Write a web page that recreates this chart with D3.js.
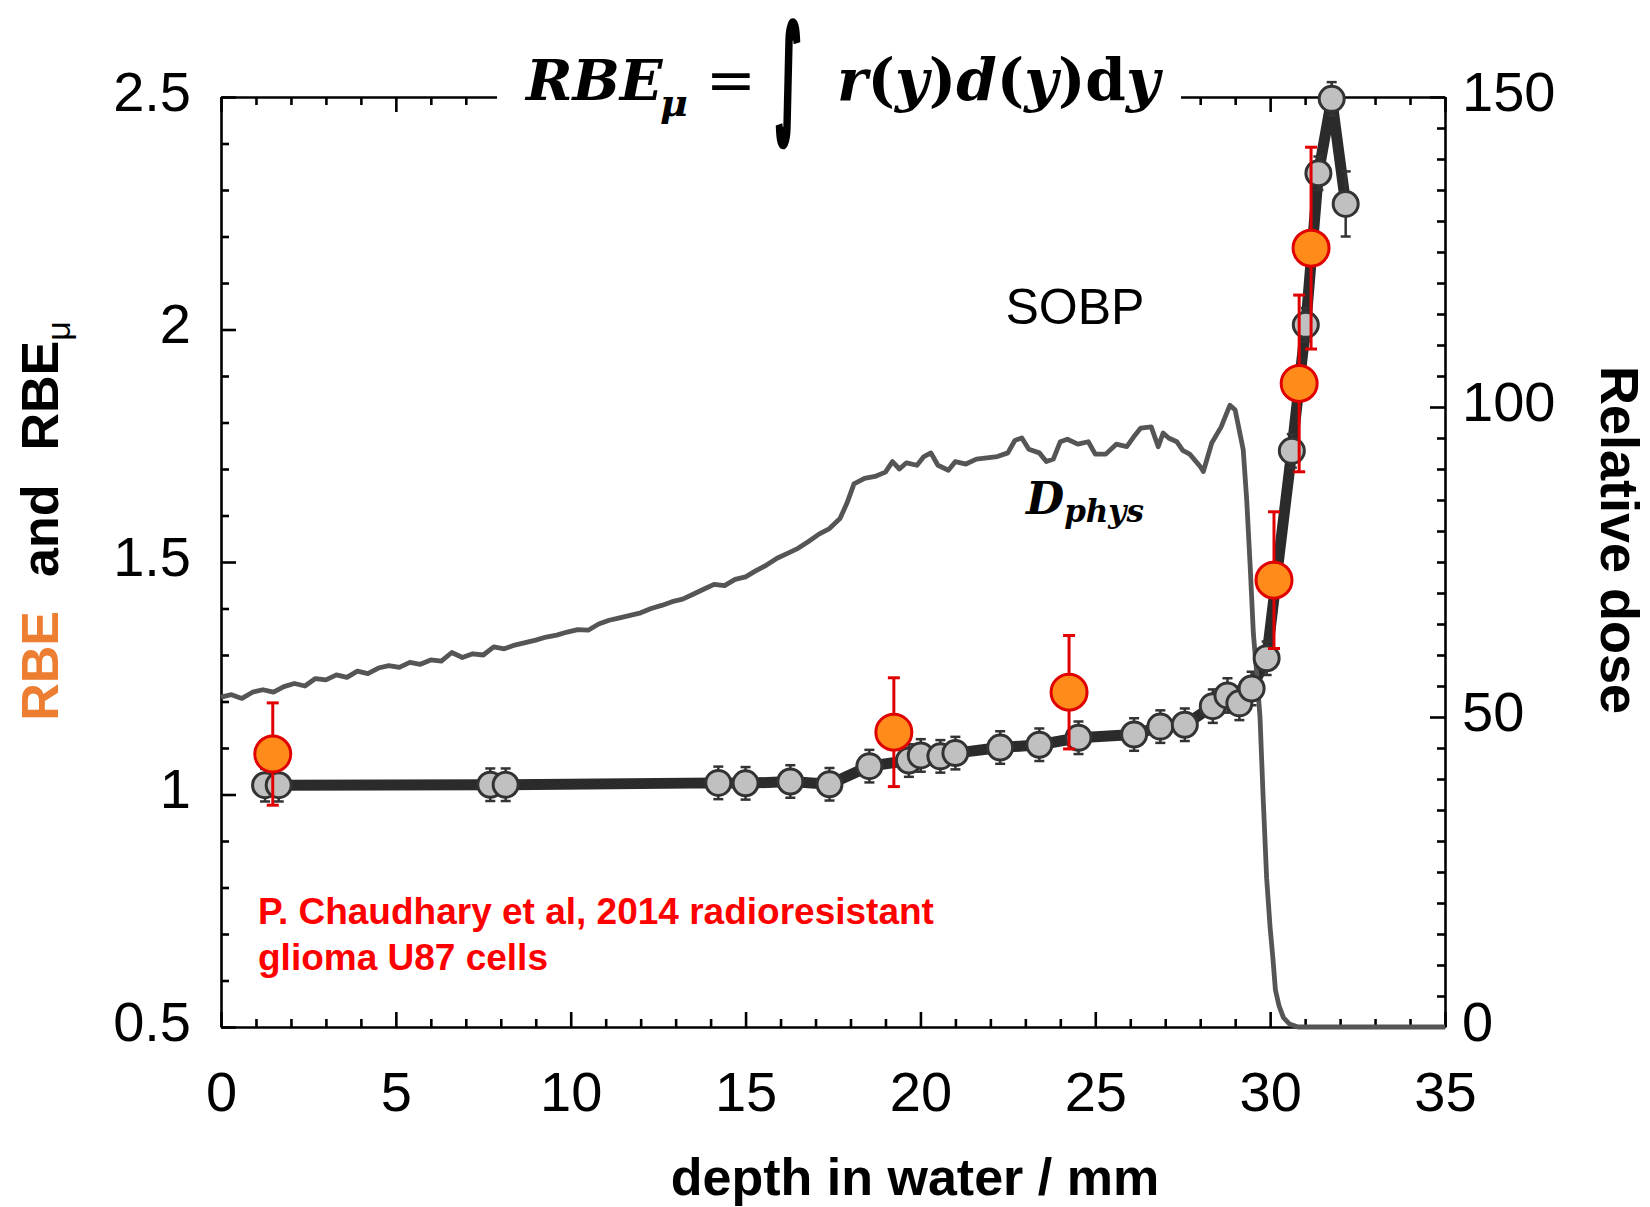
<!DOCTYPE html>
<html>
<head>
<meta charset="utf-8">
<script src="https://cdn.jsdelivr.net/npm/d3@7"></script>
<style>
  body { margin: 0; background: #fff; }
  svg { display: block; }
</style>
</head>
<body>
<svg id="chart" width="1650" height="1207"></svg>
<script>
// ---- axis ticks ----
const depthTicks = [0, 5, 10, 15, 20, 25, 30, 35];
const rbeTicks = [0.5, 1, 1.5, 2, 2.5];
const rbeTickLabels = ["0.5", "1", "1.5", "2", "2.5"];
const doseTicks = [0, 50, 100, 150];

// ---- RBE_mu (microdosimetric model), depth in mm ----
const rbeMuDepth = [1.26, 1.65, 7.70, 8.14, 14.22, 15.00, 16.28, 17.40, 18.54, 19.67,
  20.01, 20.57, 21.00, 22.28, 23.40, 24.52, 26.11, 26.86, 27.56, 28.36,
  28.78, 29.12, 29.47, 29.90, 30.62, 31.02, 31.38, 31.76, 32.16];
const rbeMuValue = [1.020, 1.020, 1.021, 1.021, 1.025, 1.024, 1.028, 1.022, 1.061, 1.073,
  1.084, 1.082, 1.089, 1.101, 1.107, 1.122, 1.129, 1.146, 1.150, 1.190,
  1.213, 1.196, 1.228, 1.293, 1.739, 2.010, 2.336, 2.496, 2.270];
const rbeMuError = [0.035, 0.035, 0.035, 0.035, 0.035, 0.035, 0.035, 0.035, 0.035, 0.035,
  0.035, 0.035, 0.035, 0.035, 0.035, 0.035, 0.035, 0.035, 0.035, 0.036,
  0.037, 0.036, 0.036, 0.036, 0.036, 0.036, 0.036, 0.036, 0.070];

// ---- measured RBE (Chaudhary et al. 2014) ----
const rbeDepth = [1.48, 19.24, 24.25, 30.11, 30.83, 31.17];
const rbeValue = [1.087, 1.134, 1.220, 1.461, 1.884, 2.175];
const rbeError = [0.110, 0.117, 0.122, 0.147, 0.190, 0.217];

// ---- SOBP physical dose profile (relative dose, %) ----
const doseDepth = [0.0, 0.3, 0.6, 0.9, 1.2, 1.5, 1.8, 2.1, 2.4, 2.7,
  3.0, 3.3, 3.6, 3.9, 4.2, 4.5, 4.8, 5.1, 5.4, 5.7,
  6.0, 6.3, 6.6, 6.9, 7.2, 7.5, 7.8, 8.1, 8.4, 8.7,
  9.0, 9.3, 9.6, 9.9, 10.2, 10.5, 10.8, 11.1, 11.4, 11.7,
  12.0, 12.3, 12.6, 12.9, 13.2, 13.5, 13.8, 14.1, 14.4, 14.7,
  15.0, 15.3, 15.6, 15.9, 16.2, 16.5, 16.8, 17.1, 17.4, 17.7,
  17.9, 18.1, 18.4, 18.7, 19.0, 19.2, 19.4, 19.6, 19.9, 20.1,
  20.3, 20.5, 20.8, 21.0, 21.3, 21.6, 21.9, 22.2, 22.5, 22.7,
  22.9, 23.1, 23.4, 23.6, 23.8, 24.0, 24.2, 24.5, 24.8, 25.0,
  25.3, 25.6, 25.9, 26.1, 26.3, 26.6, 26.8, 26.94, 27.1, 27.33,
  27.5, 27.7, 28.0, 28.09, 28.33, 28.6, 28.85, 29.0, 29.23, 29.33,
  29.43, 29.52, 29.6, 29.71, 29.80, 29.90, 30.0, 30.08, 30.15, 30.25,
  30.38, 30.55, 30.8, 35.0];
const doseValue = [53.2, 53.6, 53.0, 54.0, 54.4, 54.0, 54.9, 55.4, 55.0, 56.2,
  56.0, 56.8, 56.4, 57.4, 57.0, 57.9, 58.3, 58.0, 58.8, 58.5,
  59.2, 59.0, 60.4, 59.6, 60.2, 60.0, 61.3, 61.0, 61.6, 62.0,
  62.4, 62.9, 63.2, 63.7, 64.1, 64.0, 65.0, 65.6, 66.0, 66.4,
  66.8, 67.5, 68.0, 68.6, 69.0, 69.8, 70.6, 71.4, 71.2, 72.2,
  72.6, 73.6, 74.5, 75.6, 76.4, 77.2, 78.3, 79.5, 80.4, 82.0,
  84.5, 87.6, 88.5, 88.8, 89.5, 91.2, 90.0, 91.0, 90.6, 92.0,
  92.6, 90.6, 89.8, 91.2, 90.8, 91.6, 91.8, 92.0, 92.6, 94.6,
  95.0, 93.2, 92.6, 91.2, 91.6, 94.4, 94.8, 94.0, 94.4, 92.4,
  92.4, 94.0, 93.6, 95.2, 96.6, 96.8, 93.6, 95.8, 95.0, 94.4,
  93.0, 92.4, 90.4, 89.6, 94.2, 96.8, 100.3, 99.5, 93.1, 85.0,
  74.2, 63.5, 58.1, 50.0, 37.0, 24.0, 16.0, 11.0, 6.0, 3.5,
  1.5, 0.5, 0.0, 0.0];

// ---- layout ----
const svg = d3.select("#chart");
const plot = { left: 221, right: 1445, top: 97, bottom: 1027 };

const x = d3.scaleLinear().domain([0, 35]).range([plot.left, plot.right]);
const yL = d3.scaleLinear().domain([0.5, 2.5]).range([plot.bottom, plot.top]);
const yR = d3.scaleLinear().domain([0, 150]).range([plot.bottom, plot.top]);

const sans = "Liberation Sans, Arial, sans-serif";
const serif = "DejaVu Serif, serif";
const tickFont = 56;

const xMinor = d3.range(0, 35.001, 1).filter(v => v % 5 !== 0);
const yLMinor = d3.range(0.5, 2.5001, 0.1).map(v => +v.toFixed(2)).filter(v => !rbeTicks.includes(v));
const yRMinor = d3.range(0, 150.001, 5).filter(v => v % 50 !== 0);

function styleAxis(g) {
  g.selectAll("path.domain").attr("stroke", "#000").attr("stroke-width", 2.6);
  g.selectAll(".tick line").attr("stroke", "#000").attr("stroke-width", 2.6);
  g.selectAll(".tick text").attr("fill", "#000").attr("font-family", sans).attr("font-size", tickFont);
}

// bottom axis (labels) + minor ticks
svg.append("g").attr("transform", `translate(0,${plot.bottom})`)
  .call(d3.axisBottom(x).tickValues(depthTicks).tickFormat(d3.format("d"))
    .tickSizeInner(-15).tickSizeOuter(0).tickPadding(44))
  .call(styleAxis).call(g => g.selectAll(".tick text").attr("dy", "0.71em"));
svg.append("g").attr("transform", `translate(0,${plot.bottom})`)
  .call(d3.axisBottom(x).tickValues(xMinor).tickFormat("").tickSizeInner(-8).tickSizeOuter(0))
  .call(styleAxis).call(g => g.select("path.domain").remove());

// top axis (mirrored ticks)
svg.append("g").attr("transform", `translate(0,${plot.top})`)
  .call(d3.axisTop(x).tickValues(depthTicks).tickFormat("").tickSizeInner(-15).tickSizeOuter(0))
  .call(styleAxis);
svg.append("g").attr("transform", `translate(0,${plot.top})`)
  .call(d3.axisTop(x).tickValues(xMinor).tickFormat("").tickSizeInner(-8).tickSizeOuter(0))
  .call(styleAxis).call(g => g.select("path.domain").remove());

// left axis: RBE
svg.append("g").attr("transform", `translate(${plot.left},0)`)
  .call(d3.axisLeft(yL).tickValues(rbeTicks).tickFormat((d, i) => rbeTickLabels[i])
    .tickSizeInner(-15).tickSizeOuter(0).tickPadding(30))
  .call(styleAxis).call(g => g.selectAll(".tick text").attr("dy", "0.24em"));
svg.append("g").attr("transform", `translate(${plot.left},0)`)
  .call(d3.axisLeft(yL).tickValues(yLMinor).tickFormat("").tickSizeInner(-8).tickSizeOuter(0))
  .call(styleAxis).call(g => g.select("path.domain").remove());

// right axis: relative dose
svg.append("g").attr("transform", `translate(${plot.right},0)`)
  .call(d3.axisRight(yR).tickValues(doseTicks).tickFormat(d3.format("d"))
    .tickSizeInner(-15).tickSizeOuter(0).tickPadding(17))
  .call(styleAxis).call(g => g.selectAll(".tick text").attr("dy", "0.24em"));
svg.append("g").attr("transform", `translate(${plot.right},0)`)
  .call(d3.axisRight(yR).tickValues(yRMinor).tickFormat("").tickSizeInner(-8).tickSizeOuter(0))
  .call(styleAxis).call(g => g.select("path.domain").remove());

// ---- title formula over the top frame ----
svg.append("rect").attr("x", 497).attr("y", 40).attr("width", 684).attr("height", 110).attr("fill", "#fff");
const title = svg.append("g").attr("font-family", serif).attr("font-weight", "bold").attr("fill", "#000");
title.append("text").attr("x", 526).attr("y", 100).attr("font-size", 56).attr("font-style", "italic").text("RBE");
title.append("text").attr("x", 660).attr("y", 116).attr("font-size", 38).attr("font-style", "italic").text("μ");
title.append("text").attr("x", 731).attr("y", 100).attr("font-size", 60).attr("font-weight", "normal")
  .attr("text-anchor", "middle").text("=");

// integral sign: tall glyph stretched from its bottom hook up to the top of the formula
const ctx = document.createElement("canvas").getContext("2d");
ctx.font = "bold 80px 'DejaVu Sans'";
const im = ctx.measureText("∫");
const inkAsc = im.actualBoundingBoxAscent || 61, inkDesc = im.actualBoundingBoxDescent || 16;
const inkL = im.actualBoundingBoxLeft || 0, inkR = im.actualBoundingBoxRight || 30;
const sy = 1.3 * 97 / (inkAsc + inkDesc), sx = 22 / (inkL + inkR);
const inkCx = (inkR - inkL) / 2;
title.append("text")
  .attr("transform", `translate(${788 - inkCx * sx},147) scale(${sx},${sy}) translate(0,${-inkDesc})`)
  .attr("font-family", "DejaVu Sans, sans-serif").attr("font-size", 80).attr("font-weight", "bold")
  .attr("stroke", "#000").attr("stroke-width", 2.4 / sx)
  .text("∫");

const formula = title.append("text").attr("x", 837).attr("y", 100).attr("font-size", 58);
[["r", "italic"], ["(", "normal"], ["y", "italic"], [")", "normal"], ["d", "italic"],
 ["(", "normal"], ["y", "italic"], [")", "normal"], ["d", "normal"], ["y", "italic"]]
  .forEach(([t, s]) => formula.append("tspan").attr("font-style", s).text(t));

// ---- RBE_mu curve with error bars ----
const muPts = rbeMuDepth.map((d, i) => ({ d, v: rbeMuValue[i], e: rbeMuError[i] }));
const rbePts = rbeDepth.map((d, i) => ({ d, v: rbeValue[i], e: rbeError[i] }));

svg.append("path").datum(muPts)
  .attr("d", d3.line().x(p => x(p.d)).y(p => yL(p.v)))
  .attr("fill", "none").attr("stroke", "#2b2b2b").attr("stroke-width", 11)
  .attr("stroke-linejoin", "round");

function errorBars(pts, color, width, cap) {
  const g = svg.append("g").attr("stroke", color).attr("stroke-width", width);
  pts.forEach(p => {
    const cx = x(p.d), y1 = yL(p.v - p.e), y2 = yL(p.v + p.e);
    g.append("line").attr("x1", cx).attr("x2", cx).attr("y1", y1).attr("y2", y2);
    g.append("line").attr("x1", cx - cap).attr("x2", cx + cap).attr("y1", y1).attr("y2", y1);
    g.append("line").attr("x1", cx - cap).attr("x2", cx + cap).attr("y1", y2).attr("y2", y2);
  });
}
errorBars(muPts, "#333", 2.5, 5);

// ---- SOBP dose profile ----
const dosePts = doseDepth.map((d, i) => ({ d, v: doseValue[i] }));
svg.append("path").datum(dosePts)
  .attr("d", d3.line().x(p => x(p.d)).y(p => yR(p.v)))
  .attr("fill", "none").attr("stroke", "#555").attr("stroke-width", 4.8)
  .attr("stroke-linejoin", "round");

// markers
svg.append("g").selectAll("circle").data(muPts).join("circle")
  .attr("cx", p => x(p.d)).attr("cy", p => yL(p.v)).attr("r", 12.5)
  .attr("fill", "#c0c0c0").attr("stroke", "#333").attr("stroke-width", 3);

errorBars(rbePts, "#e00000", 3, 6);
svg.append("g").selectAll("circle").data(rbePts).join("circle")
  .attr("cx", p => x(p.d)).attr("cy", p => yL(p.v)).attr("r", 18)
  .attr("fill", "#ff8c1a").attr("stroke", "#e00000").attr("stroke-width", 3);

// ---- annotations ----
svg.append("text").attr("x", 1075).attr("y", 324).attr("text-anchor", "middle")
  .attr("font-family", sans).attr("font-size", 50).attr("fill", "#000").text("SOBP");

const dphys = svg.append("text").attr("x", 1026).attr("y", 514)
  .attr("font-family", serif).attr("font-weight", "bold").attr("font-style", "italic").attr("fill", "#000");
dphys.append("tspan").attr("font-size", 44).text("D");
dphys.append("tspan").attr("font-size", 31).attr("dy", 8).text("phys");

const note = svg.append("g").attr("font-family", sans).attr("font-weight", "bold")
  .attr("font-size", 37).attr("fill", "#ff0000");
note.append("text").attr("x", 258).attr("y", 924).text("P. Chaudhary et al, 2014 radioresistant");
note.append("text").attr("x", 258).attr("y", 970).text("glioma U87 cells");

// axis titles
svg.append("text").attr("x", 915).attr("y", 1195).attr("text-anchor", "middle")
  .attr("font-family", sans).attr("font-weight", "bold").attr("font-size", 52).attr("fill", "#000")
  .text("depth in water / mm");

const yTitle = svg.append("text").attr("transform", "translate(58,521) rotate(-90)")
  .attr("text-anchor", "middle").attr("font-family", sans).attr("font-weight", "bold")
  .attr("font-size", 52).attr("fill", "#000");
yTitle.append("tspan").attr("fill", "#ED7D31").text("RBE");
yTitle.append("tspan").attr("dx", 34).text("and");
yTitle.append("tspan").attr("dx", 34).text("RBE");
yTitle.append("tspan").attr("font-size", 34).attr("dy", 12).attr("font-weight", "normal").text("μ");

svg.append("text").attr("transform", "translate(1601,540) rotate(90)")
  .attr("text-anchor", "middle").attr("font-family", sans).attr("font-weight", "bold")
  .attr("font-size", 54).attr("fill", "#000").text("Relative dose");
</script>
</body>
</html>
